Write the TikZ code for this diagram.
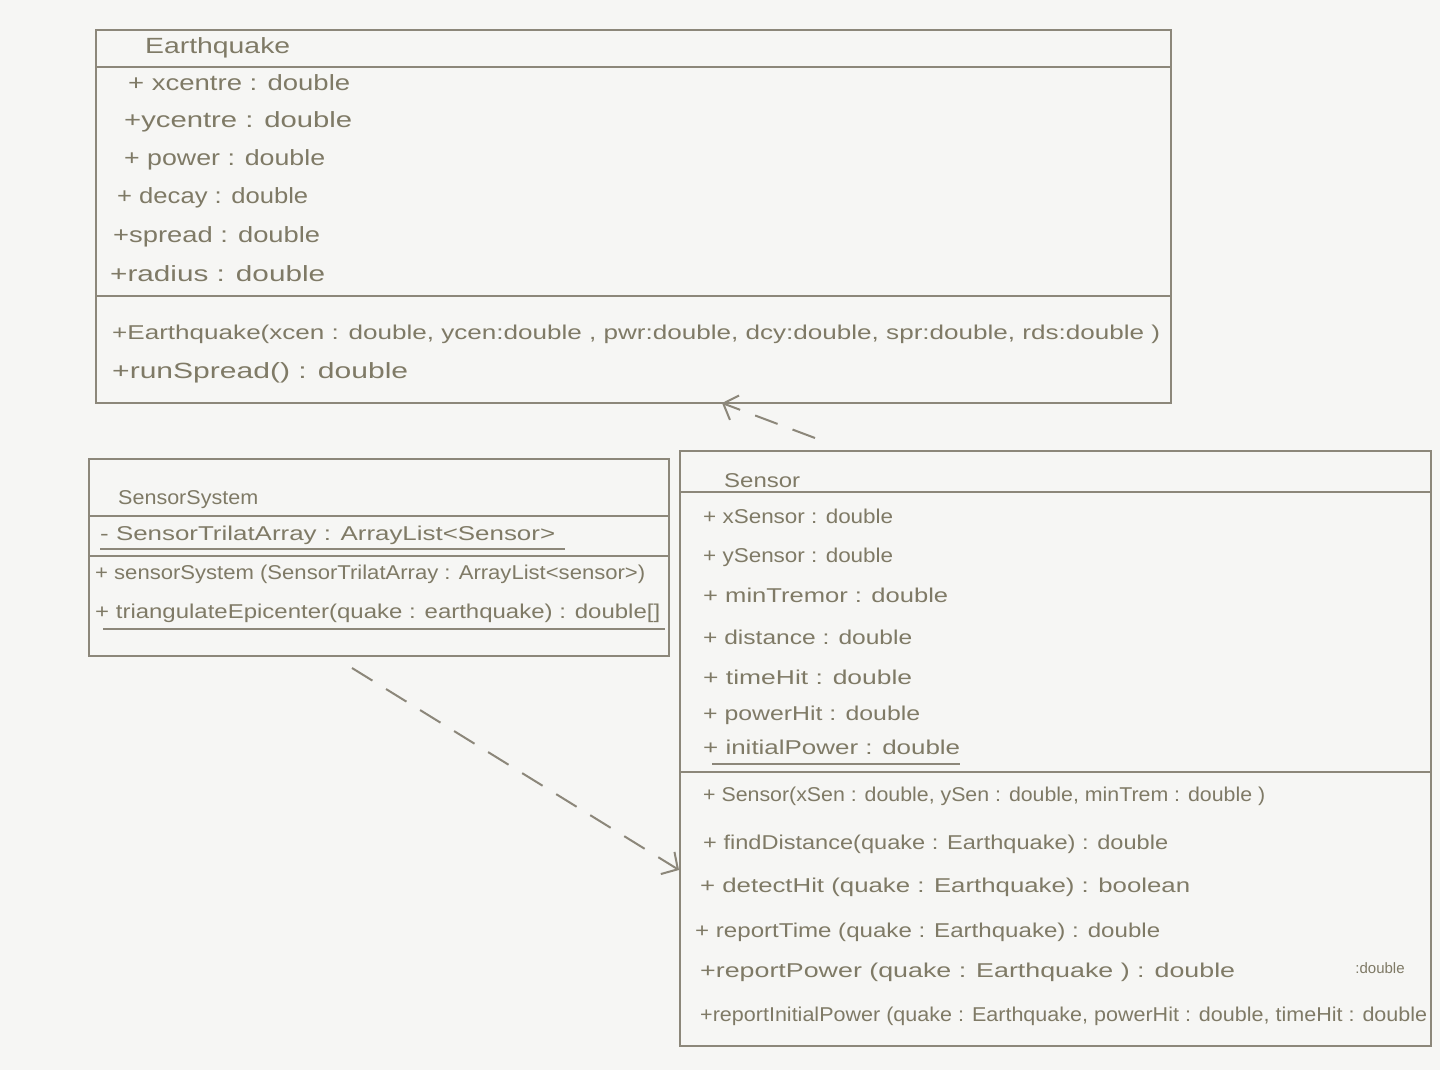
\documentclass[tikz,border=0pt]{standalone}
\usepackage{fontspec}
\usepackage{graphicx}
\setmainfont{Liberation Sans}
\usetikzlibrary{arrows.meta}

\definecolor{paper}{HTML}{F6F6F4}
\definecolor{pencil}{HTML}{8C877A}
\definecolor{ink}{HTML}{7F7A66}

% stretch a line of text horizontally to a given width (in pt), keeping its height
\newcommand\fitto[2]{\resizebox{#1pt}{\height}{\strut #2}}

\begin{document}
\begin{tikzpicture}[x=1pt,y=-1pt,
  umlbox/.style={draw=pencil, line width=1.8pt, rectangle, inner sep=0pt, anchor=north west},
  sep/.style={draw=pencil, line width=1.6pt},
  uline/.style={draw=pencil, line width=1.3pt},
  txt/.style={text=ink, anchor=west, inner sep=0pt, font=\fontsize{20}{24}\selectfont},
  bigtxt/.style={txt, font=\fontsize{22}{26}\selectfont},
  dep/.style={draw=pencil, line width=2pt, dash pattern=on 24pt off 16pt,
    -{Straight Barb[length=12pt,width=26pt,line width=2pt]}}
]
\useasboundingbox (0,0) rectangle (1440,1070);
\fill[paper] (0,0) rectangle (1440,1070);

% ---------- Earthquake ----------
\node[umlbox, minimum width=1075, minimum height=373] (eq) at (95,29) {};
\draw[sep] (95,67) -- (1170,67);
\draw[sep] (95,296) -- (1170,296);
\node[bigtxt] (eqname) at (145,48) {\fitto{145}{Earthquake}};
\node[bigtxt] (eqa1) at (128,85) {\fitto{222}{+ xcentre : double}};
\node[bigtxt] (eqa2) at (124,122) {\fitto{228}{+ycentre : double}};
\node[bigtxt] (eqa3) at (124,160) {\fitto{201}{+ power : double}};
\node[bigtxt] (eqa4) at (117,198) {\fitto{191}{+ decay : double}};
\node[bigtxt] (eqa5) at (113,237) {\fitto{207}{+spread : double}};
\node[bigtxt] (eqa6) at (110,276) {\fitto{215}{+radius : double}};
\node[txt] (eqm1) at (112,335) {\fitto{1048}{+Earthquake(xcen : double, ycen:double , pwr:double, dcy:double, spr:double, rds:double )}};
\node[bigtxt] (eqm2) at (112,373) {\fitto{296}{+runSpread() : double}};

% ---------- SensorSystem ----------
\node[umlbox, minimum width=580, minimum height=197] (ss) at (88,458) {};
\draw[sep] (88,516) -- (668,516);
\draw[sep] (88,556) -- (668,556);
\node[txt] (ssname) at (118,500) {\fitto{140}{SensorSystem}};
\node[txt] (ssa1) at (100,536) {\fitto{455}{- SensorTrilatArray : ArrayList<Sensor>}};
\draw[uline] (100,549) -- (565,549);
\node[txt] (ssm1) at (95,575) {\fitto{550}{+ sensorSystem (SensorTrilatArray : ArrayList<sensor>)}};
\node[txt] (ssm2) at (95,614) {\fitto{565}{+ triangulateEpicenter(quake : earthquake) : double[]}};
\draw[uline] (103,629) -- (665,629);

% ---------- Sensor ----------
\node[umlbox, minimum width=751, minimum height=595] (sen) at (679,450) {};
\draw[sep] (679,492) -- (1430,492);
\draw[sep] (679,772) -- (1430,772);
\node[txt] (senname) at (724,483) {\fitto{76}{Sensor}};
\node[txt] (sena1) at (703,519) {\fitto{190}{+ xSensor : double}};
\node[txt] (sena2) at (703,558) {\fitto{190}{+ ySensor : double}};
\node[txt] (sena3) at (703,598) {\fitto{245}{+ minTremor : double}};
\node[txt] (sena4) at (703,640) {\fitto{209}{+ distance : double}};
\node[txt] (sena5) at (703,680) {\fitto{209}{+ timeHit : double}};
\node[txt] (sena6) at (703,716) {\fitto{217}{+ powerHit : double}};
\node[txt] (sena7) at (703,750) {\fitto{257}{+ initialPower : double}};
\draw[uline] (712,764) -- (960,764);
\node[txt] (senm1) at (703,797) {\fitto{562}{+ Sensor(xSen : double, ySen : double, minTrem : double )}};
\node[txt] (senm2) at (703,845) {\fitto{465}{+ findDistance(quake : Earthquake) : double}};
\node[txt] (senm3) at (700,888) {\fitto{490}{+ detectHit (quake : Earthquake) : boolean}};
\node[txt] (senm4) at (695,933) {\fitto{465}{+ reportTime (quake : Earthquake) : double}};
\node[txt] (senm5) at (700,973) {\fitto{535}{+reportPower (quake : Earthquake ) : double}};
\node[txt, font=\fontsize{15}{18}\selectfont, anchor=center] (senret) at (1380,968) {:double};
\node[txt] (senm6) at (700,1017) {\fitto{727}{+reportInitialPower (quake : Earthquake, powerHit : double, timeHit : double}};

% ---------- dependencies ----------
\coordinate (ssout) at (352,668);
\coordinate (senin) at (679,870);
\coordinate (senout) at (815,438);
\coordinate (eqin) at (722,403);
\draw[dep] (ssout) -- (senin);
\draw[dep] (senout) -- (eqin);
\end{tikzpicture}
\end{document}
